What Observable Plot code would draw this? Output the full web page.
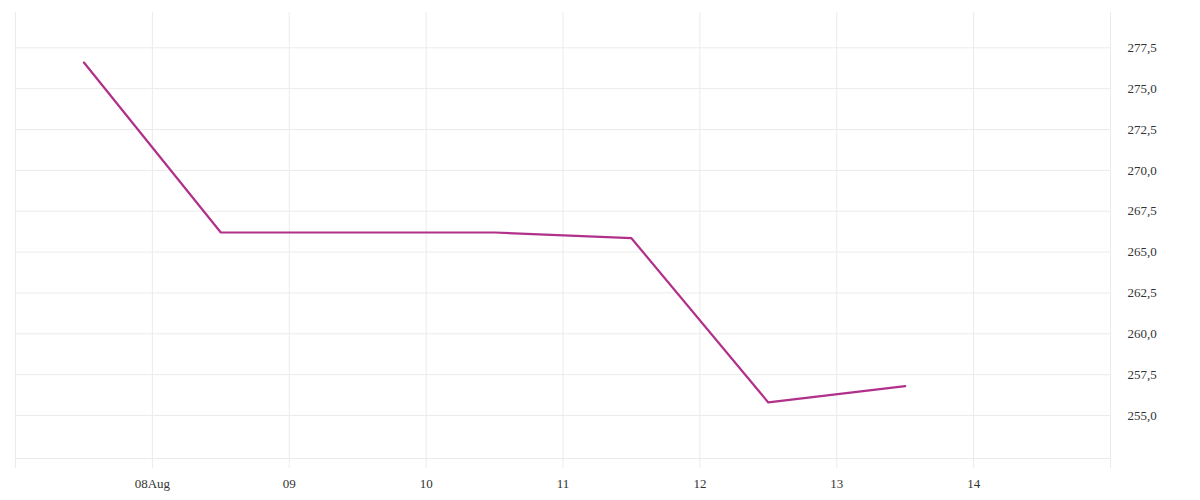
<!DOCTYPE html>
<html>
<head>
<meta charset="utf-8">
<script src="https://cdn.jsdelivr.net/npm/d3@7"></script>
<script src="https://cdn.jsdelivr.net/npm/@observablehq/plot@0.6"></script>
<style>
  html, body { margin: 0; padding: 0; background: #fff; }
  #chart svg { display: block; }
</style>
</head>
<body>
<div id="chart"></div>
<script>
const dates = ["2023-08-07T12:00Z", "2023-08-08T12:00Z", "2023-08-10T12:00Z", "2023-08-11T12:00Z", "2023-08-12T12:00Z", "2023-08-13T12:00Z"];
const values = [276.6, 266.2, 266.2, 265.85, 255.8, 256.8];
const gridDays = ["2023-08-07", "2023-08-08", "2023-08-09", "2023-08-10", "2023-08-11", "2023-08-12", "2023-08-13", "2023-08-14", "2023-08-15"];
const xTickDays = ["2023-08-08", "2023-08-09", "2023-08-10", "2023-08-11", "2023-08-12", "2023-08-13", "2023-08-14"];
const xTickLabels = ["08Aug", "09", "10", "11", "12", "13", "14"];
const yTicks = [255, 257.5, 260, 262.5, 265, 267.5, 270, 272.5, 275, 277.5];
const yDomain = [252.37, 279.66];

const data = dates.map((d, i) => ({date: new Date(d), value: values[i]}));
const gridX = gridDays.map(d => new Date(d + "T00:00Z"));
const tickX = xTickDays.map(d => new Date(d + "T00:00Z"));
const labelMap = new Map(tickX.map((d, i) => [+d, xTickLabels[i]]));
const fmt = v => v.toFixed(1).replace(".", ",");

const chart = Plot.plot({
  width: 1200,
  height: 500,
  marginLeft: 15,
  marginRight: 90,
  marginTop: 12,
  marginBottom: 42,
  style: {fontFamily: "'Liberation Serif', 'DejaVu Serif', serif", fontSize: "13px", color: "#333", background: "#fff"},
  x: {type: "utc", domain: [gridX[0], gridX[gridX.length - 1]], label: null},
  y: {domain: yDomain, label: null},
  marks: [
    Plot.ruleY(yTicks, {stroke: "#ebebeb", strokeWidth: 1}),
    Plot.ruleY([yDomain[0]], {stroke: "#ebebeb", strokeWidth: 1}),
    Plot.ruleX(gridX, {stroke: "#ebebeb", strokeWidth: 1, insetBottom: -10}),
    Plot.axisX(tickX, {ticks: tickX, tickSize: 0, tickPadding: 20, tickFormat: d => labelMap.get(+d), fill: "#333", fontSize: 13, label: null}),
    Plot.axisY(yTicks, {anchor: "right", ticks: yTicks, tickSize: 0, tickPadding: 17, tickFormat: fmt, textAnchor: "start", fill: "#333", fontSize: 13, label: null}),
    Plot.line(data, {x: "date", y: "value", stroke: "#b0308a", strokeWidth: 2.2})
  ]
});
document.getElementById("chart").appendChild(chart);
</script>
</body>
</html>
